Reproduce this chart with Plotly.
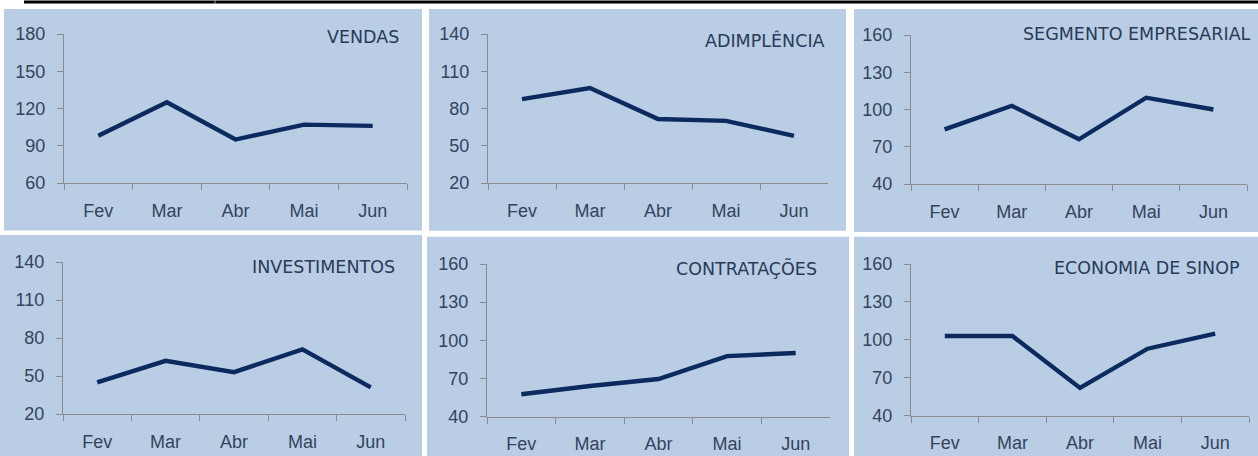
import plotly.graph_objects as go

W, H = 1258, 456

months = ["Fev", "Mar", "Abr", "Mai", "Jun"]

titles = ["VENDAS", "ADIMPLÊNCIA", "SEGMENTO EMPRESARIAL",
          "INVESTIMENTOS", "CONTRATAÇÕES", "ECONOMIA DE SINOP"]

vendas = [98, 125, 95, 107, 106]
adimplencia = [87.5, 96.5, 71.5, 70, 58]
segmento = [84, 103, 76, 109.5, 100]
investimentos = [45, 62, 53, 71, 41]
contratacoes = [57.5, 64, 69.5, 87.5, 90]
economia = [103, 103, 62, 93, 105]

y_min = [60, 20, 40, 20, 40, 40]
y_max = [180, 140, 160, 140, 160, 160]
y_step = 30

series = [vendas, adimplencia, segmento, investimentos, contratacoes, economia]

# layout (pixels)
plot_boxes = [  # x0, x1, ytop, ybottom
    (64, 407, 34, 183),
    (488, 828, 34, 183),
    (911, 1247, 35, 184),
    (63, 405, 262, 414),
    (487, 830, 264, 416.5),
    (911, 1249, 264, 415.7),
]
panels = [  # x0, x1, y0, y1
    (4, 422, 9, 230.5),
    (429, 846, 9, 230.7),
    (854, 1258, 9, 232),
    (0, 422, 235, 456),
    (427, 849, 236.7, 456),
    (854, 1258, 236.7, 456),
]
title_pos = [  # right x, center y
    (401, 37), (827, 40), (1253, 34), (397, 267), (819, 268), (1242, 268)
]

def px(x):
    return x / W

def py(y):
    return 1 - y / H

BG = "#b9cde5"
LINE = "#0b2a5e"
TXT = "#33445c"
AX = "#8c8c8c"

fig = go.Figure()
shapes = []
annotations = []
for i in range(6):
    n = "" if i == 0 else str(i + 1)
    x0, x1, yt, yb = plot_boxes[i]
    fig.add_trace(go.Scatter(
        x=months, y=series[i], mode="lines",
        line=dict(color=LINE, width=4.4),
        xaxis="x" + n, yaxis="y" + n, showlegend=False,
        hoverinfo="skip",
    ))
    fig.update_layout(**{
        "xaxis" + n: dict(
            domain=[px(x0), px(x1)], anchor="y" + n, type="category",
            categoryorder="array", categoryarray=months,
            range=[-0.5, 4.5], tickson="boundaries", ticks="outside",
            ticklen=6, tickcolor=AX, showline=True, linecolor=AX, linewidth=1.3,
            showgrid=False, zeroline=False, ticklabelstandoff=11,
            tickfont=dict(family="Liberation Sans, Arial", size=18, color=TXT),
            fixedrange=True, automargin=False,
        ),
        "yaxis" + n: dict(
            domain=[py(yb), py(yt)], anchor="x" + n,
            range=[y_min[i], y_max[i]],
            tickvals=list(range(y_min[i], y_max[i] + 1, y_step)),
            ticks="outside", ticklen=6, tickcolor=AX, showline=True,
            linecolor=AX, linewidth=1.3, showgrid=False, zeroline=False,
            ticklabelstandoff=8,
            tickfont=dict(family="Liberation Sans, Arial", size=18, color=TXT),
            fixedrange=True, automargin=False,
        ),
    })
    a0, a1, b0, b1 = panels[i]
    shapes.append(dict(type="rect", xref="paper", yref="paper",
                       x0=px(a0), x1=px(a1), y0=py(b1), y1=py(b0),
                       fillcolor=BG, line=dict(width=0), layer="below"))
    tx, ty = title_pos[i]
    annotations.append(dict(
        text=titles[i], xref="paper", yref="paper", x=px(tx), y=py(ty),
        xanchor="right", yanchor="middle", showarrow=False,
        font=dict(family="DejaVu Sans", size=17.5, color="#283b58"),
    ))

# top rule
shapes.append(dict(type="line", xref="paper", yref="paper",
                   x0=px(24), x1=px(1258), y0=py(2), y1=py(2),
                   line=dict(color="#000000", width=3)))
shapes.append(dict(type="line", xref="paper", yref="paper",
                   x0=px(215), x1=px(215), y0=py(0), y1=py(4),
                   line=dict(color="#a0a0a0", width=1)))

fig.update_layout(
    width=W, height=H, margin=dict(l=0, r=0, t=0, b=0, pad=0, autoexpand=False),
    paper_bgcolor="white", plot_bgcolor="rgba(0,0,0,0)",
    shapes=shapes, annotations=annotations, showlegend=False,
)

post = (
    "document.body.style.margin='0px';"
    "document.body.style.padding='0px';"
    "document.body.style.overflow='hidden';"
    "var d=document.getElementById('{plot_id}');"
    "d.style.position='absolute';d.style.left='0px';d.style.top='0px';"
)

fig.write_html("out.html", config={"displayModeBar": False}, post_script=post)
